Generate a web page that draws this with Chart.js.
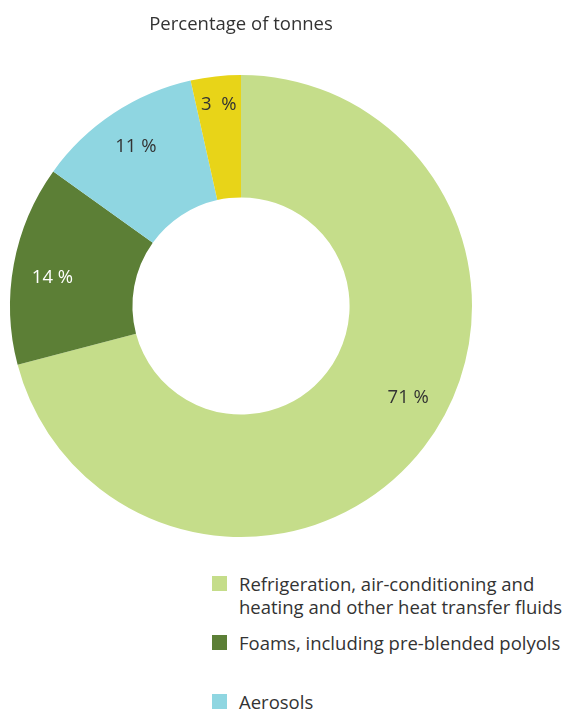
<!DOCTYPE html>
<html>
<head>
<meta charset="utf-8">
<script src="https://cdn.jsdelivr.net/npm/chart.js@4/dist/chart.umd.min.js"></script>
<style>
  html, body { margin: 0; padding: 0; background: #fff; }
  body { width: 567px; height: 711px; overflow: hidden; position: relative; font-family: "Open Sans", sans-serif; }
  #chart-box { position: absolute; left: 0; top: 0; width: 482px; height: 540px; }
  #legend { position: absolute; left: 212px; top: 572px; width: 355px; }
  .legend-item { position: relative; height: 59px; padding-left: 27px; font-size: 18.5px; line-height: 23px; color: #333; white-space: nowrap; }
  .legend-swatch { position: absolute; left: 0; top: 4px; width: 15px; height: 15px; }
</style>
</head>
<body>
<div id="chart-box"><canvas id="donut"></canvas></div>
<div id="legend"></div>
<script>
// 分类与数值
const categories = [
  ['Refrigeration, air-conditioning and', 'heating and other heat transfer fluids'],
  ['Foams, including pre-blended polyols'],
  ['Aerosols'],
  ['Other']
];
const shares = [70.9, 14.0, 11.6, 3.5];
const shareLabels = ['71 %', '14 %', '11 %', '3  %'];
const colors = ['#c5dd8a', '#5c7f36', '#8fd6e1', '#e8d418'];
const labelColors = ['#333333', '#ffffff', '#333333', '#333333'];
// 标签沿弧线的位置（0 = 起点, 1 = 终点）和径向位置（0 = 内圈, 1 = 外圈）
const labelAlong = [0.465, 0.46, 0.5, 0.5];
const labelOut = [0.67, 0.67, 0.67, 0.77];
const legendCount = 3; // 第四项落在画面下方之外

/**
 * 在扇区上绘制百分比文字
 */
const sliceLabels = {
  id: 'sliceLabels',
  afterDatasetsDraw(chart) {
    const ctx = chart.ctx;
    const meta = chart.getDatasetMeta(0);
    ctx.save();
    ctx.font = '18.5px "Open Sans"';
    ctx.textAlign = 'center';
    ctx.textBaseline = 'middle';
    meta.data.forEach((arc, i) => {
      const p = arc.getProps(['x', 'y', 'startAngle', 'endAngle', 'innerRadius', 'outerRadius']);
      const angle = p.startAngle + (p.endAngle - p.startAngle) * labelAlong[i];
      const r = p.innerRadius + (p.outerRadius - p.innerRadius) * labelOut[i];
      ctx.fillStyle = labelColors[i];
      ctx.fillText(shareLabels[i], p.x + Math.cos(angle) * r, p.y + Math.sin(angle) * r);
    });
    ctx.restore();
  }
};

new Chart(document.getElementById('donut'), {
  type: 'doughnut',
  data: {
    labels: categories.map(c => c.join(' ')),
    datasets: [{
      data: shares,
      backgroundColor: colors,
      borderWidth: 0,
      hoverOffset: 0
    }]
  },
  options: {
    responsive: true,
    maintainAspectRatio: false,
    animation: false,
    cutout: '47%',
    layout: { padding: { left: 10, right: 10, top: 0, bottom: 3 } },
    plugins: {
      legend: { display: false },
      tooltip: { enabled: false },
      title: {
        display: true,
        text: 'Percentage of tonnes',
        color: '#333',
        font: { family: 'Open Sans', size: 18.5, weight: 'normal', lineHeight: 1.2 },
        padding: { top: 14, bottom: 38.8 }
      }
    }
  },
  plugins: [sliceLabels]
});

// 自定义图例
const legendEl = document.getElementById('legend');
for (let i = 0; i < legendCount; i++) {
  const item = document.createElement('div');
  item.className = 'legend-item';
  item.innerHTML = `<span class="legend-swatch" style="background:${colors[i]}"></span>${categories[i].join('<br>')}`;
  legendEl.appendChild(item);
}
</script>
</body>
</html>
